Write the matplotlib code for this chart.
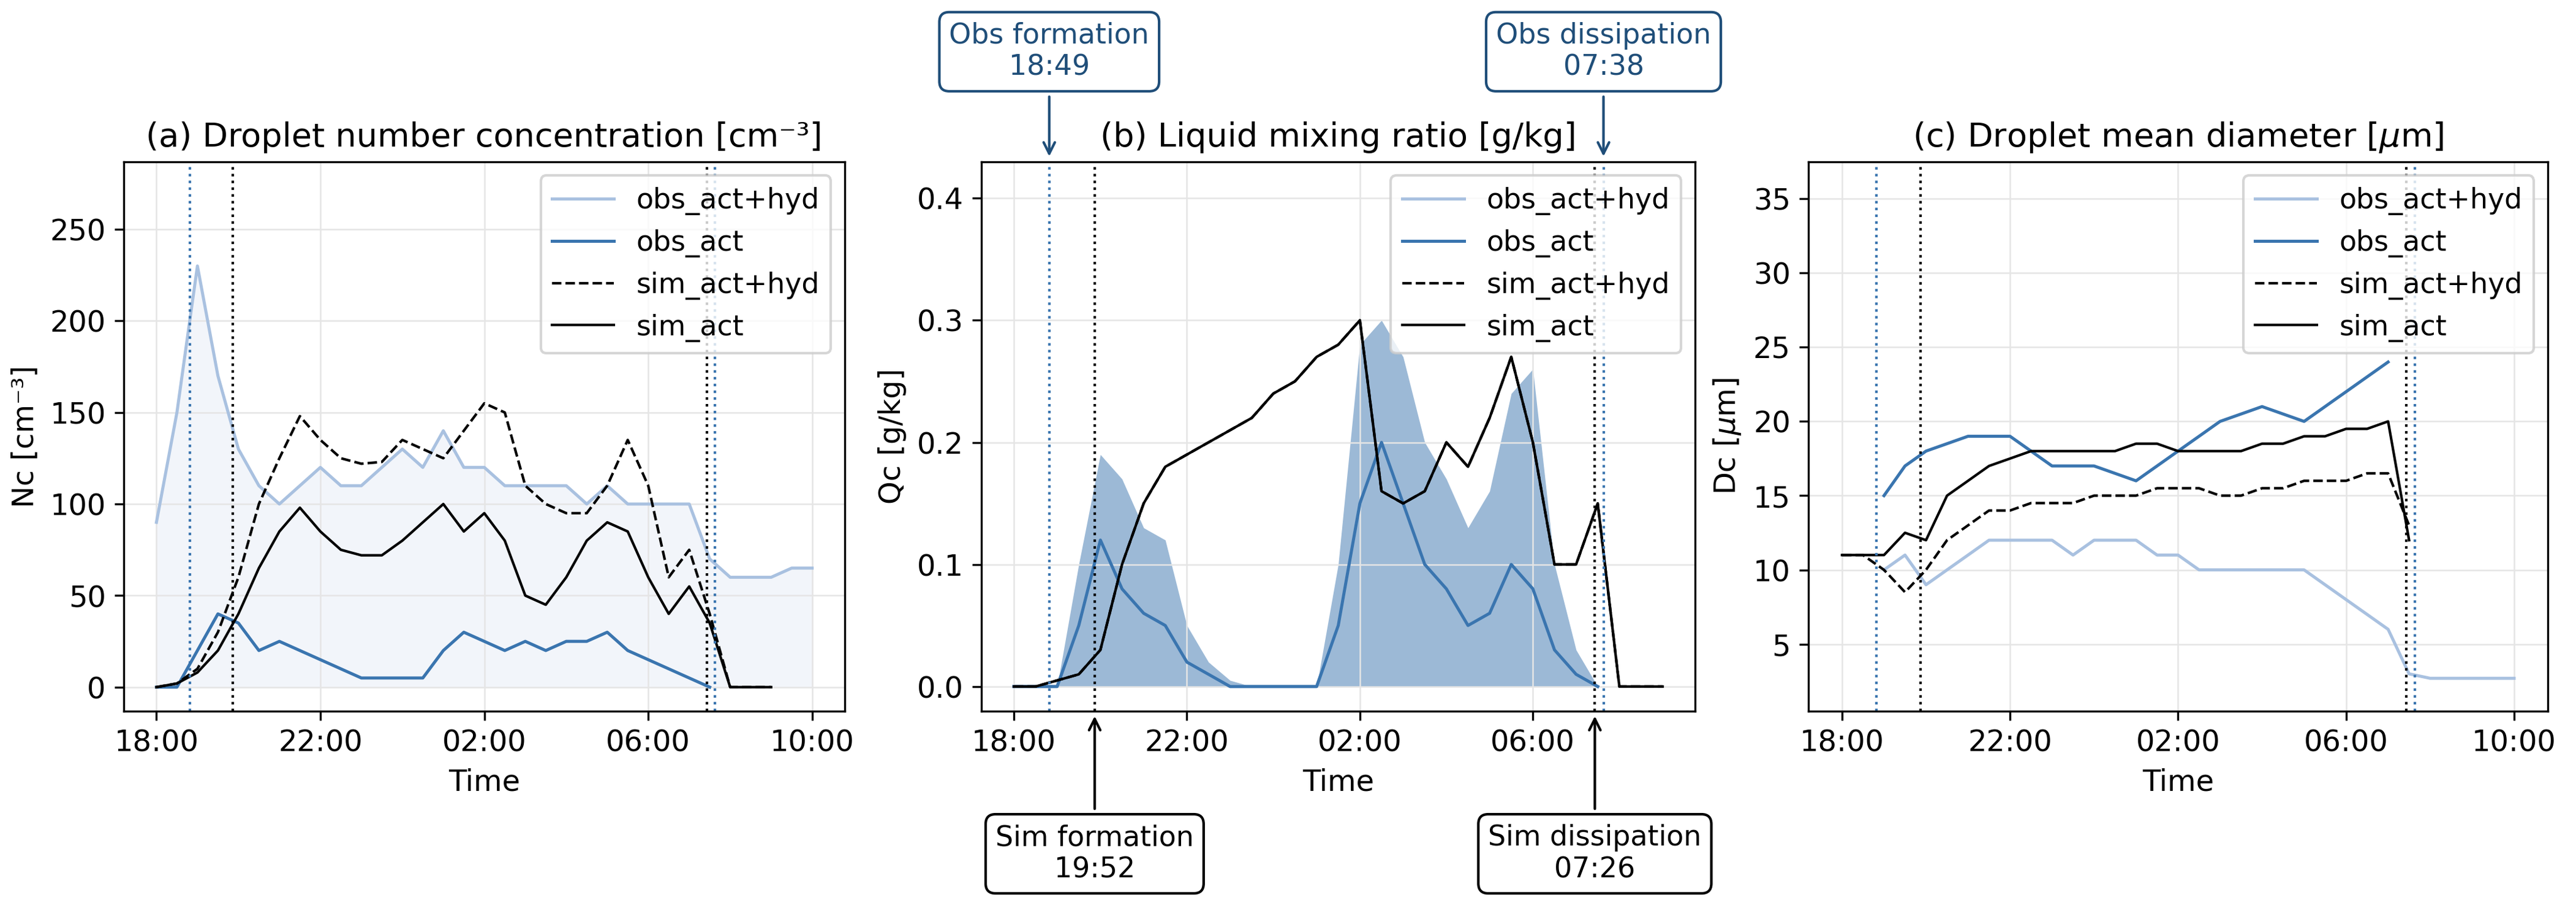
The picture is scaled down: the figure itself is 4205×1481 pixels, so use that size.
import numpy as np
import matplotlib.pyplot as plt

# hours since 18:00
t_obs = np.arange(0, 16.01, 0.5)
t_sim = np.arange(0, 15.01, 0.5)
nan = np.nan

nc_obs_hyd = [90, 150, 230, 170, 130, 110, 100, 110, 120, 110, 110, 120, 130, 120, 140, 120, 120,
              110, 110, 110, 110, 100, 110, 100, 100, 100, 100, 70, 60, 60, 60, 65, 65]
nc_obs_act = [0, 0, 20, 40, 35, 20, 25, 20, 15, 10, 5, 5, 5, 5, 20, 30, 25, 20, 25, 20, 25, 25,
              30, 20, 15, 10, 5, 0, nan, nan, nan, nan, nan]
nc_sim_hyd = [0, 2, 10, 30, 60, 100, 125, 148, 135, 125, 122, 123, 135, 130, 125, 140, 155, 150,
              110, 100, 95, 95, 110, 135, 110, 60, 75, 40, 0, 0, 0]
nc_sim_act = [0, 2, 8, 20, 40, 65, 85, 98, 85, 75, 72, 72, 80, 90, 100, 85, 95, 80, 50, 45, 60,
              80, 90, 85, 60, 40, 55, 35, 0, 0, 0]

qc_obs_act = [0, 0, 0, 0.05, 0.12, 0.08, 0.06, 0.05, 0.02, 0.01, 0, 0, 0, 0, 0, 0.05, 0.15, 0.2,
              0.15, 0.1, 0.08, 0.05, 0.06, 0.1, 0.08, 0.03, 0.01, 0, nan, nan, nan, nan, nan]
qc_obs_hi = [0, 0, 0, 0.1, 0.19, 0.17, 0.13, 0.12, 0.05, 0.02, 0.005, 0, 0, 0, 0, 0.1, 0.28, 0.3,
             0.27, 0.2, 0.17, 0.13, 0.16, 0.24, 0.26, 0.1, 0.03, 0, nan, nan, nan, nan, nan]
qc_sim_hyd = [0, 0, 0.005, 0.01, 0.03, 0.1, 0.15, 0.18, 0.19, 0.2, 0.21, 0.22, 0.24, 0.25, 0.27,
              0.28, 0.3, 0.16, 0.15, 0.16, 0.2, 0.18, 0.22, 0.27, 0.2, 0.1, 0.1, 0.15, 0, 0, 0]
qc_sim_act = qc_sim_hyd

dc_obs_hyd = [nan, nan, 10, 11, 9, 10, 11, 12, 12, 12, 12, 11, 12, 12, 12, 11, 11, 10, 10, 10, 10,
              10, 10, 9, 8, 7, 6, 3, 2.7, 2.7, 2.7, 2.7, 2.7]
dc_obs_act = [nan, nan, 15, 17, 18, 18.5, 19, 19, 19, 18, 17, 17, 17, 16.5, 16, 17, 18, 19, 20,
              20.5, 21, 20.5, 20, 21, 22, 23, 24, nan, nan, nan, nan, nan, nan]
dc_sim_hyd = [11, 11, 10, 8.5, 10, 12, 13, 14, 14, 14.5, 14.5, 14.5, 15, 15, 15, 15.5, 15.5, 15.5,
              15, 15, 15.5, 15.5, 16, 16, 16, 16.5, 16.5, 13, nan, nan, nan]
dc_sim_act = [11, 11, 11, 12.5, 12, 15, 16, 17, 17.5, 18, 18, 18, 18, 18, 18.5, 18.5, 18, 18, 18,
              18, 18.5, 18.5, 19, 19, 19.5, 19.5, 20, 12, nan, nan, nan]

tick_pos = [0, 4, 8, 12, 16]
tick_lab = ["18:00", "22:00", "02:00", "06:00", "10:00"]
obs_form, sim_form, sim_diss, obs_diss = 0.817, 1.867, 13.433, 13.633

light = '#a9c1e0'
dark = '#3a75af'
edge = '#1f4e79'

fig = plt.figure(figsize=(14.017, 4.937), dpi=300)
axes = [fig.add_axes([0.048, 0.217, 0.280, 0.605]),
        fig.add_axes([0.381, 0.217, 0.277, 0.605]),
        fig.add_axes([0.702, 0.217, 0.287, 0.605])]

panels = [
    (nc_obs_hyd, nc_obs_act, nc_sim_hyd, nc_sim_act, "(a) Droplet number concentration [cm⁻³]", "Nc [cm⁻³]"),
    (qc_obs_act, qc_obs_act, qc_sim_hyd, qc_sim_act, "(b) Liquid mixing ratio [g/kg]", "Qc [g/kg]"),
    (dc_obs_hyd, dc_obs_act, dc_sim_hyd, dc_sim_act, "(c) Droplet mean diameter [$\\mu$m]", "Dc [$\\mu$m]"),
]

for ax, (oh, oa, sh, sa, title, ylab) in zip(axes, panels):
    ax.plot(t_obs, oh, color=light, lw=1.2, label='obs_act+hyd')
    ax.plot(t_obs, oa, color=dark, lw=1.2, label='obs_act')
    ax.plot(t_sim, sh, color='black', ls='--', lw=1.0, label='sim_act+hyd')
    ax.plot(t_sim, sa, color='black', lw=1.0, label='sim_act')
    for x, c in [(obs_form, dark), (obs_diss, dark), (sim_form, 'black'), (sim_diss, 'black')]:
        ax.axvline(x, color=c, ls=':', lw=1.0)
    ax.set_title(title, fontsize=13)
    ax.set_ylabel(ylab, fontsize=11.5)
    ax.set_xlabel('Time', fontsize=11.5)
    ax.set_xticks(tick_pos, tick_lab)
    ax.tick_params(labelsize=11.5)
    ax.grid(color='#e5e5e5', lw=0.6)
    ax.legend(loc='upper right', fontsize=11, handlelength=2.2)

axes[0].fill_between(t_obs, 0, nc_obs_hyd, color=light, alpha=0.15, lw=0)
axes[1].fill_between(t_obs, 0, qc_obs_hi, color=dark, alpha=0.5, lw=0)
axes[0].set_ylim(-13, 287)
axes[1].set_ylim(-0.02, 0.43)
axes[1].set_yticks([0, 0.1, 0.2, 0.3, 0.4])
axes[2].set_ylim(0.5, 37.5)
axes[2].set_yticks([5, 10, 15, 20, 25, 30, 35])

box_obs = dict(boxstyle='round,pad=0.35', fc='white', ec=edge)
box_sim = dict(boxstyle='round,pad=0.35', fc='white', ec='black')
ab = axes[1]
tr = ab.get_xaxis_transform()
for x, txt in [(obs_form, "Obs formation\n18:49"), (obs_diss, "Obs dissipation\n07:38")]:
    ab.annotate(txt, xy=(x, 1.0), xycoords=tr, xytext=(x, 1.2), textcoords=tr,
                ha='center', va='center', fontsize=11, color=edge, bbox=box_obs,
                arrowprops=dict(arrowstyle='->', color=edge, lw=1.0), annotation_clip=False)
for x, txt in [(sim_form, "Sim formation\n19:52"), (sim_diss, "Sim dissipation\n07:26")]:
    ab.annotate(txt, xy=(x, 0.0), xycoords=tr, xytext=(x, -0.26), textcoords=tr,
                ha='center', va='center', fontsize=11, color='black', bbox=box_sim,
                arrowprops=dict(arrowstyle='->', color='black', lw=1.0), annotation_clip=False)

fig.savefig('out.png', dpi=300)
